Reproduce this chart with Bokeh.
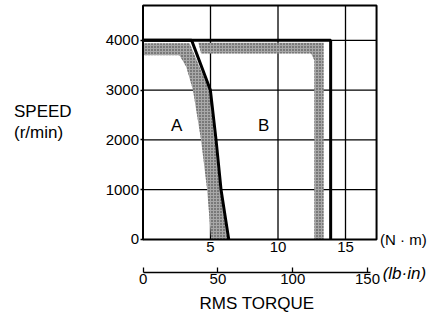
from bokeh.plotting import figure
from bokeh.models import Range1d, LinearAxis, FixedTicker, Label
from bokeh.embed import file_html
from bokeh.resources import INLINE

# ---- data ----
nm_ticks = [5, 10, 15]
speed_ticks = [0, 1000, 2000, 3000, 4000]
speed_grid = [1000, 2000, 3000, 4000]
lbin_ticks = [0, 50, 100, 150]

# chart box limits (N·m, r/min)
x_max = 17.3
y_max = 4700

# thick boundary of region A
a_line_torque = [0, 3.6, 4.99, 5.41, 5.78, 6.35]
a_line_speed = [4000, 4000, 3000, 2000, 1000, 0]

# thick boundary of region B
b_line_torque = [0, 13.9, 13.9]
b_line_speed = [4000, 4000, 0]

# shaded tolerance band of A
a_band_torque = [0, 3.45, 4.9, 5.3, 5.7, 6.25, 5.05, 4.75, 4.3, 3.7, 3.2, 2.7, 0]
a_band_speed = [3940, 3940, 3000, 2000, 1000, 0, 0, 1000, 2000, 3000, 3470, 3700, 3700]

# shaded tolerance band of B
b_band_torque = [4.1, 13.38, 13.38, 12.69, 12.69, 12.45, 4.3]
b_band_speed = [3950, 3950, 0, 0, 3600, 3735, 3735]

FONT = "Liberation Sans"

p = figure(width=428, height=320,
           x_range=Range1d(-10.556, 21.148), y_range=Range1d(-1627, 4800),
           output_backend="svg", toolbar_location=None, min_border=0)
p.extra_x_ranges = {"lbin": Range1d(-95.43, 190.8)}
p.outline_line_color = None
p.background_fill_color = "white"
p.border_fill_color = "white"
p.grid.visible = False

# grid lines inside the chart box
p.segment(x0=nm_ticks, y0=[0] * len(nm_ticks), x1=nm_ticks, y1=[y_max] * len(nm_ticks),
          line_color="black", line_width=1.3)
p.segment(x0=[0] * len(speed_grid), y0=speed_grid, x1=[x_max] * len(speed_grid), y1=speed_grid,
          line_color="black", line_width=1.3)

# bands
for bx, by in ((a_band_torque, a_band_speed), (b_band_torque, b_band_speed)):
    p.patch(bx, by, fill_color="#a8a8a8", line_color=None,
            hatch_pattern="dot", hatch_color="#303030", hatch_scale=3, hatch_weight=1)

# boundaries
p.line(a_line_torque, a_line_speed, line_color="black", line_width=3)
p.line(b_line_torque, b_line_speed, line_color="black", line_width=3)

# chart box
p.quad(left=[0], right=[x_max], bottom=[0], top=[y_max], fill_color=None,
       line_color="black", line_width=2)

# main N·m axis
xa = p.xaxis[0]
xa.fixed_location = 0
xa.ticker = FixedTicker(ticks=nm_ticks)
xa.axis_line_color = None
xa.major_tick_in = 0
xa.major_tick_out = 0
xa.minor_tick_line_color = None
xa.major_label_standoff = 3
xa.major_label_text_font = FONT
xa.major_label_text_font_size = "15px"
xa.major_label_text_color = "black"

# y axis
ya = p.yaxis[0]
ya.fixed_location = 0
ya.ticker = FixedTicker(ticks=speed_ticks)
ya.axis_line_color = None
ya.major_tick_in = 0
ya.major_tick_out = 3
ya.major_tick_line_width = 1.5
ya.minor_tick_line_color = None
ya.major_label_standoff = 1
ya.major_label_text_font = FONT
ya.major_label_text_font_size = "15px"
ya.major_label_text_color = "black"

# lb·in axis
ax2 = LinearAxis(x_range_name="lbin", ticker=FixedTicker(ticks=lbin_ticks),
                 axis_label="RMS TORQUE", fixed_location=-657, bounds=(0, 152))
ax2.axis_line_width = 1.5
ax2.major_tick_in = 5
ax2.major_tick_out = 0
ax2.major_tick_line_width = 1.3
ax2.minor_tick_line_color = None
ax2.major_label_standoff = 2
ax2.major_label_text_font = FONT
ax2.major_label_text_font_size = "15px"
ax2.major_label_text_color = "black"
ax2.axis_label_text_font = FONT
ax2.axis_label_text_font_size = "17px"
ax2.axis_label_text_font_style = "normal"
ax2.axis_label_text_color = "black"
ax2.axis_label_standoff = 6
p.add_layout(ax2, "below")

# texts
def lab(x, y, t, size, align="center", style="normal"):
    p.add_layout(Label(x=x, y=y, text=t, text_font=FONT, text_font_size=size,
                       text_align=align, text_baseline="middle",
                       text_font_style=style, text_color="black"))

lab(2.5, 2290, "A", "17px")
lab(8.94, 2290, "B", "17px")
lab(-9.556, 2561, "SPEED", "17px", align="left")
lab(-9.556, 2149, "(r/min)", "17px", align="left")
lab(17.56, 0, "(N · m)", "15px", align="left")
lab(17.75, -683, "(lb·in)", "17px", align="left", style="italic")

open("out.html", "w").write(file_html(p, INLINE))
